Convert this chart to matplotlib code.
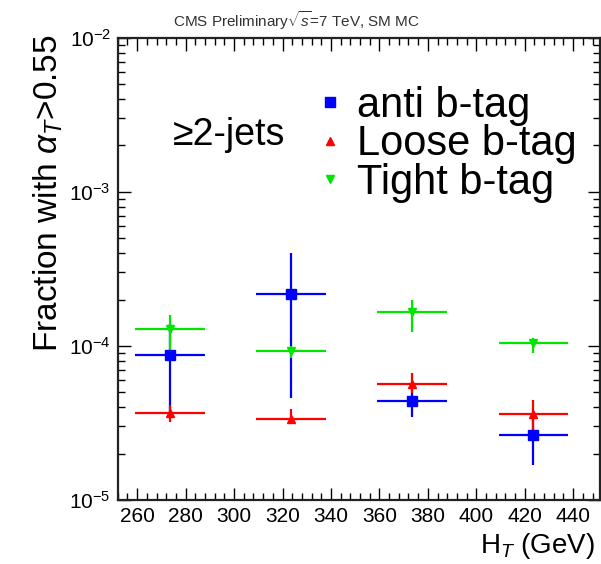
import matplotlib
matplotlib.use("Agg")
import matplotlib.pyplot as plt
from matplotlib.lines import Line2D
from matplotlib.ticker import MultipleLocator, LogLocator, NullFormatter
import numpy as np

plt.rcParams['font.family'] = ['Liberation Sans', 'DejaVu Sans']
plt.rcParams['mathtext.fontset'] = 'custom'
plt.rcParams['mathtext.rm'] = 'Liberation Sans'
plt.rcParams['mathtext.it'] = 'Liberation Sans:italic'

# bin centres and half widths (GeV)
ht = [273.5, 323.5, 373.5, 423.5]
ht_halfwidth = [14.3, 14.3, 14.3, 14.3]

# fraction with alpha_T > 0.55
anti_val = [8.75e-5, 2.18e-4, 4.42e-5, 2.64e-5]
anti_lo = [3.66e-5, 4.6e-5, 3.48e-5, 1.69e-5]
anti_hi = [1.38e-4, 4.0e-4, 5.45e-5, 3.6e-5]

loose_val = [3.66e-5, 3.36e-5, 5.63e-5, 3.6e-5]
loose_lo = [3.23e-5, 3.10e-5, 4.93e-5, 2.71e-5]
loose_hi = [4.14e-5, 3.88e-5, 6.65e-5, 4.46e-5]

tight_val = [1.29e-4, 9.2e-5, 1.67e-4, 1.04e-4]
tight_lo = [8.95e-5, 8.4e-5, 1.24e-4, 8.95e-5]
tight_hi = [1.59e-4, 1.0e-4, 1.99e-4, 1.12e-4]

labels = ['anti b-tag', 'Loose b-tag', 'Tight b-tag']
colors = ['#0000ff', '#ff0000', '#00e600']


def yerr(val, lo, hi):
    val = np.array(val)
    return [val - np.array(lo), np.array(hi) - val]


fig = plt.figure(figsize=(6.01, 5.64), dpi=100)
ax = fig.add_axes([0.196, 0.1135, 0.802, 0.8195])

ax.errorbar(ht, anti_val, xerr=ht_halfwidth, yerr=yerr(anti_val, anti_lo, anti_hi),
            fmt='s', color=colors[0], ms=7, elinewidth=1.6, capsize=0)
ax.errorbar(ht, loose_val, xerr=ht_halfwidth, yerr=yerr(loose_val, loose_lo, loose_hi),
            fmt='^', color=colors[1], ms=6, elinewidth=1.6, capsize=0)
ax.errorbar(ht, tight_val, xerr=ht_halfwidth, yerr=yerr(tight_val, tight_lo, tight_hi),
            fmt='v', color=colors[2], ms=6, elinewidth=1.6, capsize=0)

ax.set_yscale('log')
ax.set_ylim(1e-5, 1e-2)
ax.set_xlim(252, 451)

ax.xaxis.set_major_locator(MultipleLocator(20))
ax.xaxis.set_minor_locator(MultipleLocator(4))
ax.yaxis.set_major_locator(LogLocator(base=10))
ax.yaxis.set_minor_locator(LogLocator(base=10, subs=np.arange(2, 10)))
ax.yaxis.set_minor_formatter(NullFormatter())
ax.set_yticks([1e-5, 1e-4, 1e-3, 1e-2])
ax.set_yticklabels([r'$10^{-5}$', r'$10^{-4}$', r'$10^{-3}$', r'$10^{-2}$'])

ax.tick_params(which='both', direction='in', top=True, right=True, labelsize=15, pad=5)
ax.tick_params(which='major', length=9, width=1)
ax.tick_params(which='minor', length=5, width=1)
for s in ax.spines.values():
    s.set_linewidth(1.6)
    s.set_color('#222222')

ax.set_ylabel(r'Fraction with $\alpha_T$>0.55', fontsize=24)
ax.yaxis.set_label_coords(-0.11, 0.665)
ax.set_xlabel(r'H$_T$ (GeV)', fontsize=20)
ax.xaxis.set_label_coords(0.99, -0.068)
ax.xaxis.label.set_horizontalalignment('right')

ax.text(0.23, 0.79, '≥2-jets', transform=ax.transAxes, fontsize=27,
        ha='center', va='center')

handles = [Line2D([], [], ls='none', marker=m, color=c, ms=ms)
           for m, c, ms in zip(['s', '^', 'v'], colors, [7, 6, 6])]
ax.legend(handles, labels, loc='upper left', bbox_to_anchor=(0.38, 0.932),
          frameon=False, fontsize=30, labelspacing=-0.04, handlelength=0.6,
          handletextpad=0.35, borderaxespad=0)

fig.text(0.494, 0.963, r'CMS Preliminary$\sqrt{s}$=7 TeV, SM MC', fontsize=11,
         ha='center', va='center', color='#333333')

fig.savefig('out.png', dpi=100)
